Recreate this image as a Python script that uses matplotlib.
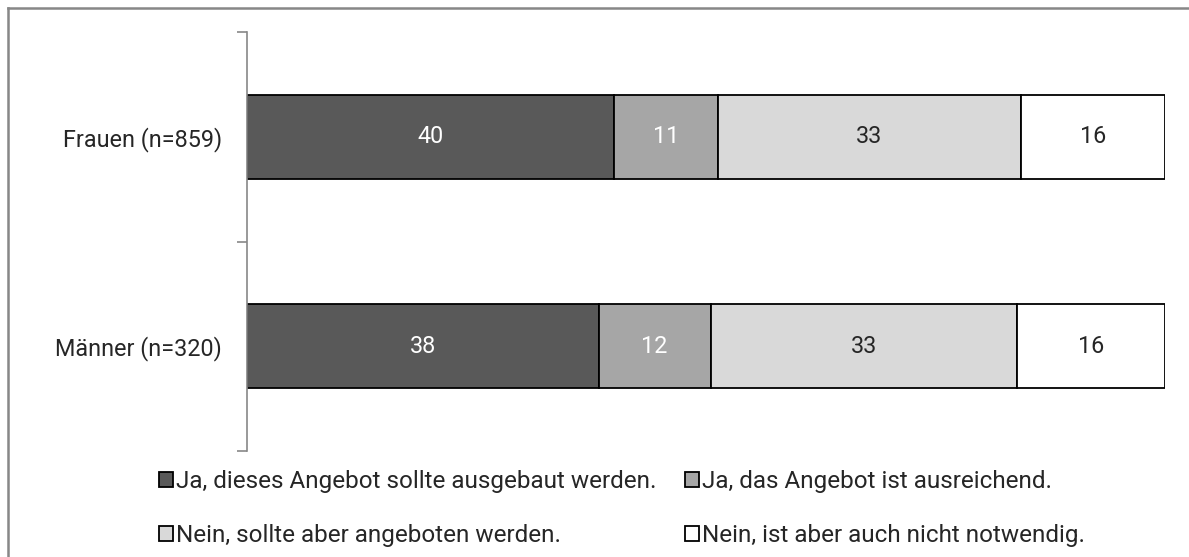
import matplotlib
matplotlib.use("Agg")
import matplotlib.pyplot as plt
from matplotlib.lines import Line2D
from matplotlib.ticker import FixedLocator

plt.rcParams["font.family"] = ["Roboto", "DejaVu Sans"]

groups = ["Frauen (n=859)", "Männer (n=320)"]
answers = [
    "Ja, dieses Angebot sollte ausgebaut werden.",
    "Ja, das Angebot ist ausreichend.",
    "Nein, sollte aber angeboten werden.",
    "Nein, ist aber auch nicht notwendig.",
]
# Anteile in % je Gruppe (Frauen, Männer)
ja_ausbauen = [40.0, 38.3]
ja_ausreichend = [11.3, 12.2]
nein_anbieten = [33.0, 33.4]
nein_unnoetig = [15.7, 16.1]

series = [ja_ausbauen, ja_ausreichend, nein_anbieten, nein_unnoetig]
colors = ["#595959", "#a6a6a6", "#d9d9d9", "#ffffff"]
text_colors = ["white", "white", "#262626", "#262626"]
fs = 16.8
fs_leg = 17.5

fig = plt.figure(figsize=(11.89, 5.57), dpi=100)
ax = fig.add_axes([247 / 1189, 1 - 451 / 557, 918 / 1189, 419 / 557])

y = list(range(len(groups)))
left = [0.0] * len(groups)
bars = []
for vals, col, tcol, lab in zip(series, colors, text_colors, answers):
    b = ax.barh(y, vals, left=left, height=0.4, color=col, edgecolor="black",
                linewidth=1.3, label=lab)
    bars.append(b)
    for rect, v in zip(b, vals):
        ax.text(rect.get_x() + rect.get_width() / 2, rect.get_y() + rect.get_height() / 2,
                f"{round(v)}", ha="center", va="center", color=tcol, fontsize=fs)
    left = [l + v for l, v in zip(left, vals)]

ax.set_xlim(0, 100)
ax.set_ylim(1.5, -0.5)
ax.set_yticks(y)
ax.set_yticklabels(groups, fontsize=fs, color="#262626")
ax.yaxis.set_minor_locator(FixedLocator([-0.5, 0.5, 1.5]))
ax.tick_params(axis="y", which="major", length=0, pad=18)
ax.tick_params(axis="y", which="minor", length=7, width=1.2, color="#878787")
ax.set_xticks([])
for s in ["top", "right", "bottom"]:
    ax.spines[s].set_visible(False)
ax.spines["left"].set_color("#878787")
ax.spines["left"].set_linewidth(1.2)

handles = [bars[0], bars[2], bars[1], bars[3]]
labels = [answers[0], answers[2], answers[1], answers[3]]
fig.legend(handles, labels, ncol=2, loc="upper left", bbox_to_anchor=(159 / 1189, 1 - 470 / 557),
           frameon=False, fontsize=fs_leg, handlelength=0.56, handleheight=0.56,
           handletextpad=0.12, columnspacing=1.2, labelspacing=1.28, borderpad=0,
           borderaxespad=0, labelcolor="#262626")

# Rahmen
fig.add_artist(Line2D([7.5 / 1189, 1], [1 - 7.5 / 557, 1 - 7.5 / 557], color="#878787", lw=1.8))
fig.add_artist(Line2D([7.5 / 1189, 7.5 / 1189], [0, 1 - 7.5 / 557], color="#878787", lw=1.8))

fig.savefig("out.png", dpi=100)
